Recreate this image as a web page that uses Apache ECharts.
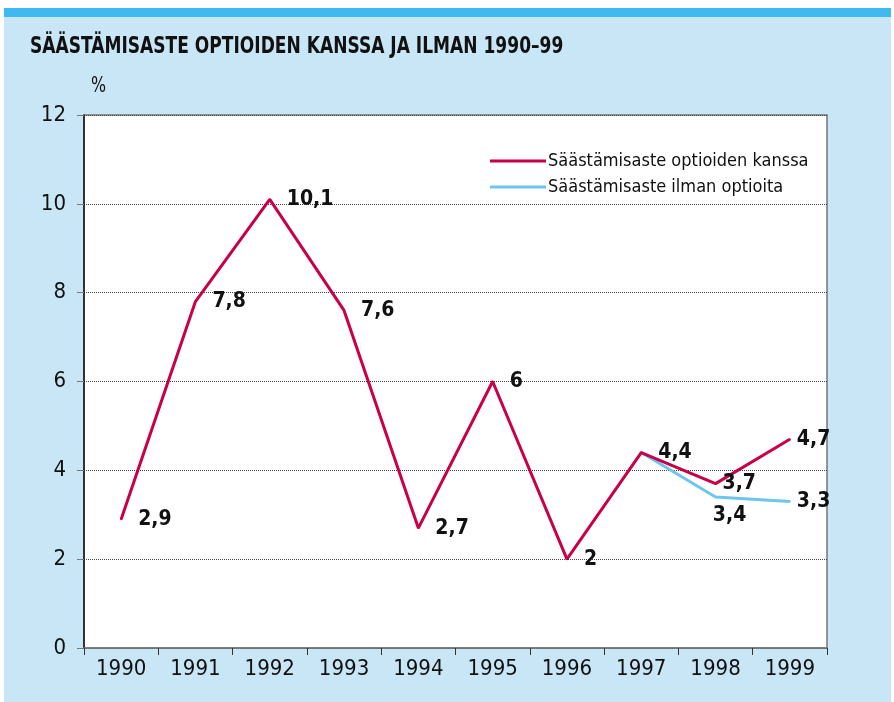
<!DOCTYPE html>
<html><head><meta charset="utf-8">
<script src="https://cdn.jsdelivr.net/npm/echarts@6/dist/echarts.min.js"></script>
<style>html,body{margin:0;padding:0;background:#fff}#c{width:894px;height:702px}</style>
</head><body><div id="c"></div>
<script>
const categories = ['1990','1991','1992','1993','1994','1995','1996','1997','1998','1999'];
const withOptions = [2.9, 7.8, 10.1, 7.6, 2.7, 6, 2, 4.4, 3.7, 4.7];
const withoutOptions = [null, null, null, null, null, null, null, 4.4, 3.4, 3.3];
const yTicks = [0, 2, 4, 6, 8, 10, 12];
const seriesNames = ['Säästämisaste optioiden kanssa', 'Säästämisaste ilman optioita'];
const titleText = 'SÄÄSTÄMISASTE OPTIOIDEN KANSSA JA ILMAN 1990–99';

const FONT = '"Liberation Sans Narrow","DejaVu Sans Condensed",sans-serif';
const RED = '#c8004a', BLUE = '#6ec6ee';
const fmt = v => String(v).replace('.', ',');
const chart = echarts.init(document.getElementById('c'));

const redData = withOptions.map((v, i) => {
  const d = {value: v};
  if (i >= 8) d.label = {distance: 6};
  return d;
});
const blueData = withoutOptions.map((v, i) => {
  if (v === null || i === 7) return {value: v, label: {show: false}};
  if (i === 8) return {value: v, label: {show: true, position: 'bottom', offset: [14, 2]}};
  return {value: v, label: {show: true, position: 'right', distance: 6}};
});

chart.setOption({
  backgroundColor: '#c9e6f7',
  animation: false,
  graphic: [
    {type: 'rect', shape: {x: 0, y: 0, width: 894, height: 8}, style: {fill: '#ffffff'}},
    {type: 'rect', shape: {x: 0, y: 8, width: 894, height: 9}, style: {fill: '#3fbaf0'}},
    {type: 'rect', shape: {x: 0, y: 8, width: 4, height: 694}, style: {fill: '#ffffff'}},
    {type: 'rect', shape: {x: 891, y: 8, width: 3, height: 694}, style: {fill: '#ffffff'}},
    {type: 'text', x: 30, y: 36, scaleX: 0.825, style: {text: titleText, font: 'bold 23px ' + FONT, fill: '#111'}},
    {type: 'text', x: 91, y: 75, scaleX: 0.8, style: {text: '%', font: '22px ' + FONT, fill: '#111'}}
  ],
  grid: {left: 84, right: 67, top: 115, bottom: 54, show: true, backgroundColor: '#ffffff', borderColor: '#777', borderWidth: 1.5},
  legend: {
    orient: 'vertical', left: 485, top: 147, itemGap: 8,
    itemWidth: 56, itemHeight: 3, icon: 'rect',
    textStyle: {fontFamily: FONT, fontSize: 18, color: '#111', padding: [0, 0, 0, -3]},
    data: [
      {name: seriesNames[0], itemStyle: {color: RED, opacity: 1}},
      {name: seriesNames[1], itemStyle: {color: BLUE, opacity: 1}}
    ]
  },
  xAxis: {
    type: 'category', data: categories, boundaryGap: true,
    axisLine: {lineStyle: {color: '#777', width: 1.5}},
    axisTick: {show: true, length: 7, lineStyle: {color: '#333'}},
    axisLabel: {fontFamily: FONT, fontSize: 22, color: '#111', margin: 10}
  },
  yAxis: {
    type: 'value', min: yTicks[0], max: yTicks[yTicks.length - 1], interval: 2,
    axisLine: {show: true, lineStyle: {color: '#111', width: 1.5}},
    axisTick: {show: true, length: 7, lineStyle: {color: '#777'}},
    axisLabel: {fontFamily: FONT, fontSize: 22, color: '#111', margin: 18},
    splitLine: {show: true, lineStyle: {color: '#444', type: [1, 1], width: 1}}
  },
  series: [
    {
      name: seriesNames[0], type: 'line', data: redData, z: 3,
      symbol: 'circle', symbolSize: 2, showSymbol: true,
      lineStyle: {color: RED, width: 3}, itemStyle: {color: RED},
      label: {show: true, position: 'right', distance: 16, formatter: p => fmt(p.value),
        fontFamily: FONT, fontSize: 21, fontWeight: 'bold', color: '#111'}
    },
    {
      name: seriesNames[1], type: 'line', data: blueData, z: 2,
      symbol: 'circle', symbolSize: 2, showSymbol: true,
      lineStyle: {color: BLUE, width: 3}, itemStyle: {color: BLUE},
      label: {show: true, formatter: p => fmt(p.value),
        fontFamily: FONT, fontSize: 21, fontWeight: 'bold', color: '#111'}
    }
  ]
});
</script></body></html>
